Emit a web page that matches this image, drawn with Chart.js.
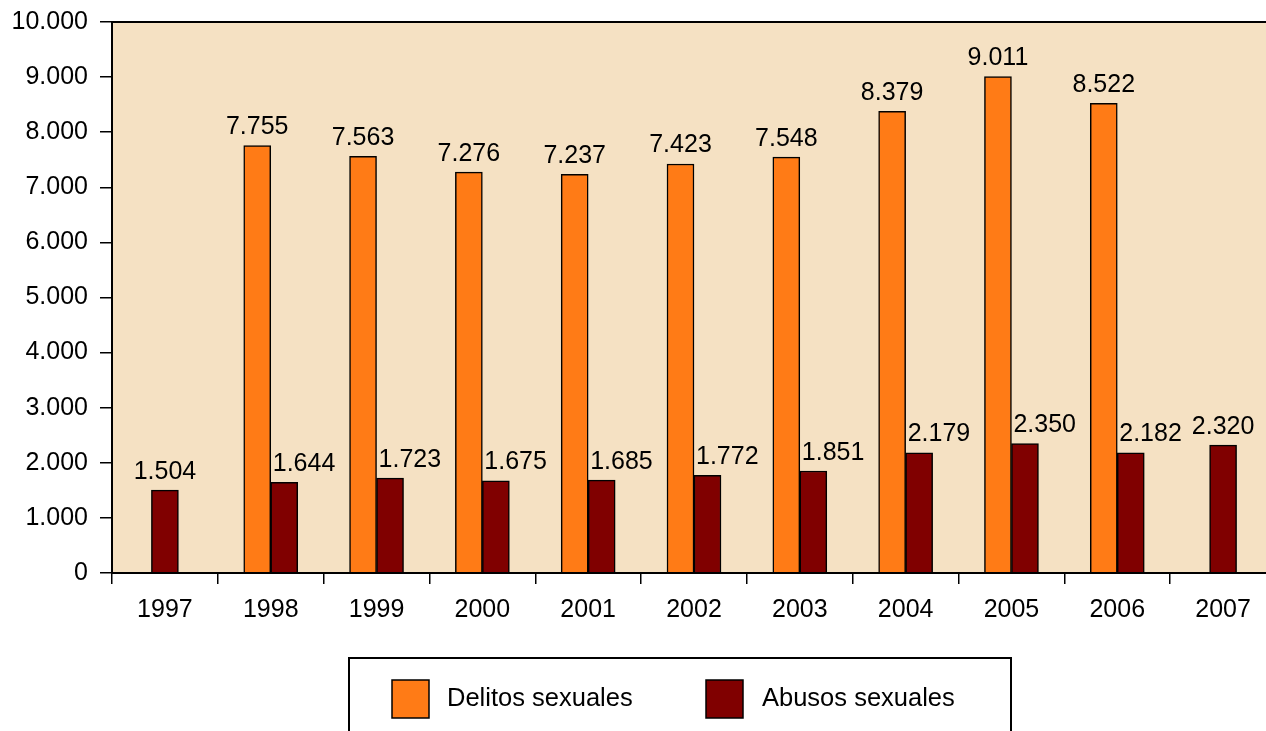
<!DOCTYPE html>
<html>
<head>
<meta charset="utf-8">
<script src="https://cdn.jsdelivr.net/npm/chart.js@4.4.1/dist/chart.umd.min.js"></script>
<style>
  html, body { margin: 0; padding: 0; background: #ffffff; overflow: hidden; width: 1266px; height: 731px; }
  canvas { display: block; }
</style>
</head>
<body>
<canvas id="c" width="1276" height="731"></canvas>
<script>
const years = ['1997', '1998', '1999', '2000', '2001', '2002', '2003', '2004', '2005', '2006', '2007'];
const delitosSexuales = [null, 7755, 7563, 7276, 7237, 7423, 7548, 8379, 9011, 8522, null];
const abusosSexuales = [1504, 1644, 1723, 1675, 1685, 1772, 1851, 2179, 2350, 2182, 2320];
const seriesNames = ['Delitos sexuales', 'Abusos sexuales'];
const yTickValues = [0, 1000, 2000, 3000, 4000, 5000, 6000, 7000, 8000, 9000, 10000];

const FONT = '"Liberation Sans", Arial, sans-serif';
const fmt = v => String(v).replace(/\B(?=(\d{3})+(?!\d))/g, '.');

const plotFrame = {
  id: 'plotFrame',
  beforeDraw(chart) {
    const a = chart.chartArea, ctx = chart.ctx;
    ctx.save();
    ctx.fillStyle = '#F5E1C3';
    ctx.fillRect(a.left, a.top, a.right - a.left, a.bottom - a.top);
    ctx.restore();
  },
  afterDraw(chart) {
    const a = chart.chartArea, ctx = chart.ctx;
    ctx.save();
    ctx.strokeStyle = '#000';
    ctx.lineWidth = 2;
    ctx.strokeRect(a.left, a.top, a.right - a.left, a.bottom - a.top);
    ctx.restore();
  }
};

const valueLabels = {
  id: 'valueLabels',
  afterDatasetsDraw(chart) {
    const ctx = chart.ctx;
    ctx.save();
    ctx.font = '25px ' + FONT;
    ctx.fillStyle = '#000';
    ctx.textBaseline = 'alphabetic';
    chart.data.datasets.forEach((ds, di) => {
      const meta = chart.getDatasetMeta(di);
      meta.data.forEach((bar, i) => {
        const v = ds.data[i];
        if (v === null || v === undefined) return;
        const paired = chart.data.datasets.every(d => d.data[i] !== null && d.data[i] !== undefined);
        const txt = fmt(v);
        if (di === 1 && paired) {
          ctx.textAlign = 'left';
          ctx.fillText(txt, bar.x - bar.width / 2 + 2, bar.y - 11.5);
        } else {
          ctx.textAlign = 'center';
          ctx.fillText(txt, bar.x, bar.y - 11.5);
        }
      });
    });
    ctx.restore();
  }
};

const boxedLegend = {
  id: 'boxedLegend',
  afterDraw(chart) {
    const ctx = chart.ctx;
    ctx.save();
    ctx.strokeStyle = '#000';
    ctx.lineWidth = 2;
    ctx.strokeRect(349, 658, 662, 120);
    const items = [{ x: 392, tx: 447 }, { x: 706, tx: 762 }];
    ctx.font = '25.5px ' + FONT;
    ctx.textBaseline = 'middle';
    ctx.textAlign = 'left';
    chart.data.datasets.forEach((ds, i) => {
      const it = items[i];
      ctx.fillStyle = ds.backgroundColor;
      ctx.fillRect(it.x, 680, 37, 38);
      ctx.lineWidth = 1.5;
      ctx.strokeStyle = '#000';
      ctx.strokeRect(it.x, 680, 37, 38);
      ctx.fillStyle = '#000';
      ctx.fillText(ds.label, it.tx, 699);
    });
    ctx.restore();
  }
};

new Chart(document.getElementById('c'), {
  type: 'bar',
  data: {
    labels: years,
    datasets: [
      { label: seriesNames[0], data: delitosSexuales, backgroundColor: '#FF7B16', borderColor: '#000', borderWidth: 1.5, barThickness: 27, skipNull: true },
      { label: seriesNames[1], data: abusosSexuales, backgroundColor: '#800000', borderColor: '#000', borderWidth: 1.5, barThickness: 27, skipNull: true }
    ]
  },
  options: {
    responsive: false,
    animation: false,
    devicePixelRatio: 1,
    layout: { padding: { top: 22, right: 0, bottom: 0, left: 0 } },
    plugins: { legend: { display: false }, tooltip: { enabled: false }, title: { display: false } },
    scales: {
      x: {
        offset: true,
        grid: { offset: true, drawOnChartArea: false, drawTicks: true, tickLength: 11, color: '#000', lineWidth: 1.5 },
        border: { display: false },
        ticks: { color: '#000', font: { size: 25, family: FONT }, padding: 11, maxRotation: 0, autoSkip: false },
        afterFit(scale) { scale.height = 158; }
      },
      y: {
        min: 0, max: 10000,
        afterBuildTicks(scale) { scale.ticks = yTickValues.map(v => ({ value: v })); },
        grid: { drawOnChartArea: false, drawTicks: true, tickLength: 12, color: '#000', lineWidth: 1.5 },
        border: { display: false },
        ticks: { color: '#000', font: { size: 25, family: FONT }, padding: 12, callback: v => fmt(v) },
        afterFit(scale) {
          scale.width = 112;
          scale.paddingTop = 0;
          scale.paddingBottom = 0;
        }
      }
    }
  },
  plugins: [plotFrame, valueLabels, boxedLegend]
});
</script>
</body>
</html>
